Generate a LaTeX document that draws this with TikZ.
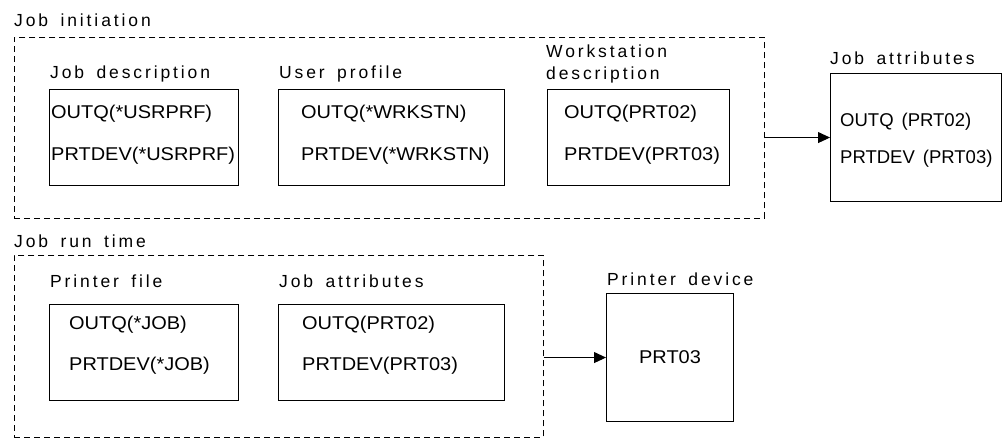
\documentclass[tikz,border=0pt]{standalone}
\usepackage{fontspec}
\setmainfont{Liberation Sans}
\newfontfamily\boxfont[FakeStretch=1.08]{Liberation Sans}
\newfontfamily\plainfont{Liberation Sans}
\newfontfamily\lblfont[LetterSpace=16.5,WordSpace=1.6]{Liberation Sans}
\usetikzlibrary{arrows.meta}
\begin{document}
\begin{tikzpicture}[x=1pt,y=-1pt,
  box/.style={draw, line width=1.1pt, inner sep=0, anchor=north west},
  group/.style={draw, dash pattern=on 6pt off 4pt, line width=0.9pt, inner sep=0, anchor=north west},
  lbl/.style={anchor=base west, inner sep=0, font=\lblfont\fontsize{17.5}{22}\selectfont},
  txt/.style={anchor=base west, inner sep=0, font=\boxfont\fontsize{18.5}{20}\selectfont},
  conn/.style={line width=0.9pt, -{Triangle[length=12pt,width=11pt]}}]
\useasboundingbox (0,0) rectangle (1002,438);
% Job initiation
\node[group, minimum width=750pt, minimum height=181pt] (init) at (14,37) {};
\node[lbl] (initl) at (14,27) {Job initiation};
\node[lbl] (jdl) at (50,79) {Job description};
\node[box, minimum width=189pt, minimum height=96pt] (jd) at (49,89) {};
\node[txt] (jd1) at (51,118.5) {OUTQ(*USRPRF)};
\node[txt] (jd2) at (51,161) {PRTDEV(*USRPRF)};
\node[lbl] (upl) at (279,79) {User profile};
\node[box, minimum width=226pt, minimum height=96pt] (up) at (278,89) {};
\node[txt] (up1) at (301,118.5) {OUTQ(*WRKSTN)};
\node[txt] (up2) at (301,161) {PRTDEV(*WRKSTN)};
\node[lbl, align=left] (wsl) at (546,80) {Workstation\\description};
\node[box, minimum width=182pt, minimum height=96pt] (ws) at (547,89) {};
\node[txt] (ws1) at (564,118.5) {OUTQ(PRT02)};
\node[txt] (ws2) at (564,161) {PRTDEV(PRT03)};
\node[lbl] (jal) at (830,65) {Job attributes};
\node[box, minimum width=171pt, minimum height=128pt] (ja) at (830,73) {};
\node[txt, font=\plainfont\fontsize{18.5}{20}\selectfont] (ja1) at (840,127) {OUTQ\hspace{8pt}(PRT02)};
\node[txt, font=\plainfont\fontsize{18.5}{20}\selectfont] (ja2) at (840,164) {PRTDEV\hspace{8pt}(PRT03)};
\draw[conn] (init.east |- ja.west) -- (ja.west);
% Job run time
\node[group, minimum width=529pt, minimum height=182pt] (run) at (14,255) {};
\node[lbl] (runl) at (14,248) {Job run time};
\node[lbl] (pfl) at (50,288) {Printer file};
\node[box, minimum width=189pt, minimum height=96pt] (pf) at (49,304) {};
\node[txt] (pf1) at (69,330) {OUTQ(*JOB)};
\node[txt] (pf2) at (69,371) {PRTDEV(*JOB)};
\node[lbl] (rjal) at (279,288) {Job attributes};
\node[box, minimum width=226pt, minimum height=96pt] (rja) at (278,304) {};
\node[txt] (rja1) at (302,330) {OUTQ(PRT02)};
\node[txt] (rja2) at (302,371) {PRTDEV(PRT03)};
\node[lbl] (pdl) at (607,286) {Printer device};
\node[box, minimum width=127pt, minimum height=128pt] (pd) at (606,293) {};
\node[inner sep=0, font=\boxfont\fontsize{18.5}{20}\selectfont] (pdt) at (pd.center) {PRT03};
\draw[conn] (run.east |- pd.west) -- (pd.west);
\end{tikzpicture}
\end{document}
